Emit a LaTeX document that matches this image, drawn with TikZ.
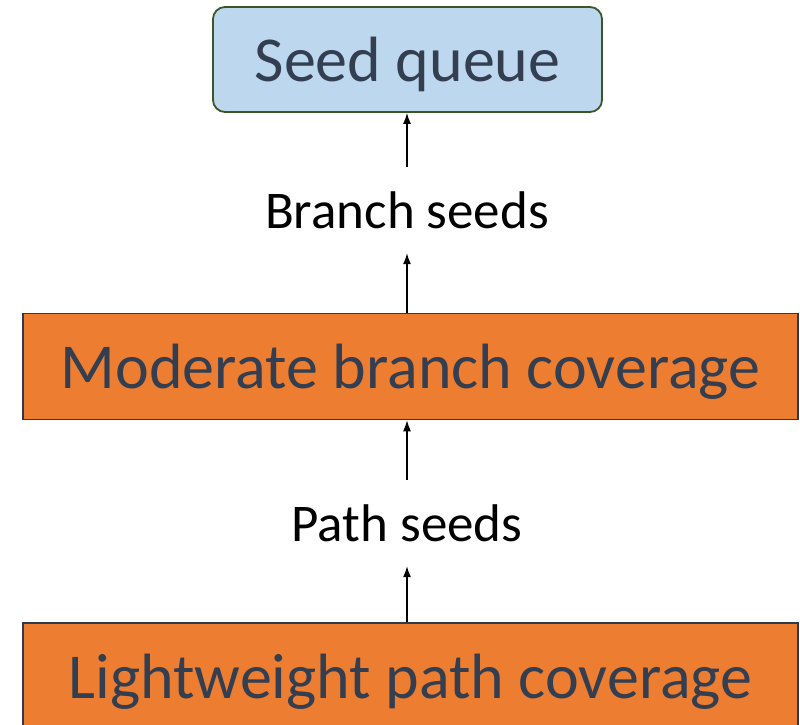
\documentclass[tikz,border=0pt]{standalone}
\usepackage{fontspec}
\setmainfont{Carlito}
\usetikzlibrary{arrows.meta}
\definecolor{boxtext}{HTML}{333F50}
\definecolor{queuefill}{HTML}{BDD7EE}
\definecolor{queueedge}{HTML}{3A5526}
\definecolor{stagefill}{HTML}{ED7D31}
\definecolor{stageedge}{HTML}{2A3A50}
\tikzset{
  queuebox/.style={draw=queueedge, line width=1.8pt, fill=queuefill, rounded corners=12pt,
    text=boxtext, font=\fontsize{64}{68}\selectfont, inner sep=0pt, text depth=0pt},
  stagebox/.style={draw=stageedge, line width=1.6pt, fill=stagefill,
    text=boxtext, font=\fontsize{64}{68}\selectfont, inner sep=0pt, text depth=0pt,
    minimum width=775pt, minimum height=106pt},
  seedlabel/.style={font=\fontsize{53}{57}\selectfont, text=black, inner sep=0pt,
    minimum height=86pt, text depth=0pt},
  flow/.style={-{Latex[length=11pt,width=8pt]}, line width=1.3pt, black}
}
\begin{document}
\begin{tikzpicture}[x=1pt,y=1pt]
  \useasboundingbox (0,0) rectangle (800,-725);
  % target queue
  \node[queuebox, minimum width=389pt, minimum height=105pt] (queue) at (407.5,-59.5) {Seed queue};
  % coverage stages
  \node[stagebox] (moderate) at (410.5,-366.5) {Moderate branch coverage};
  \node[stagebox] (light) at (410.5,-676) {Lightweight path coverage};
  % seed labels between stages
  \node[seedlabel] (branch) at (407,-210) {Branch seeds};
  \node[seedlabel] (path) at (407,-523) {Path seeds};
  % flow arrows
  \draw[flow] (branch.north) -- (branch.north |- queue.south);
  \draw[flow] (branch.south |- moderate.north) -- (branch.south);
  \draw[flow] (path.north) -- (path.north |- moderate.south);
  \draw[flow] (path.south |- light.north) -- (path.south);
\end{tikzpicture}
\end{document}
